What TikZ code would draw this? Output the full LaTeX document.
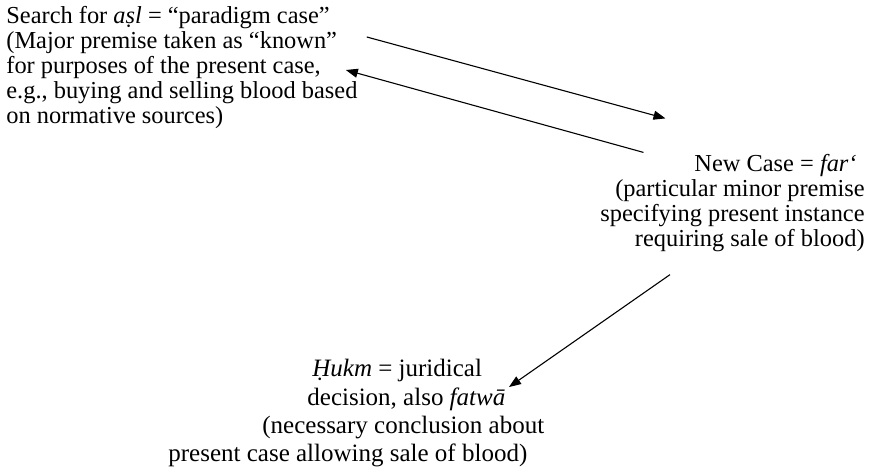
\documentclass[tikz,border=0pt]{standalone}
\usepackage{fontspec}
\setmainfont{Liberation Serif}
\usetikzlibrary{arrows.meta}

\begin{document}
\begin{tikzpicture}[
    x=0.5pt, y=-0.5pt,
    textnode/.style={inner sep=0pt, font=\fontsize{12.2}{12.5}\selectfont},
    bigtextnode/.style={inner sep=0pt, font=\fontsize{12.5}{14.2}\selectfont},
    arrowline/.style={-{Triangle[length=6pt, width=4.5pt]}, line width=0.55pt}
    ]
    \useasboundingbox (0,0) rectangle (878,475);
    %Nodes (base = last line)
    \node[textnode, anchor=base west, align=left] (asl) at (6,124)
        {Search for \textit{aṣl} = “paradigm case”\\
         (Major premise taken as “known”\\
         for purposes of the present case,\\
         e.g., buying and selling blood based\\
         on normative sources)};
    \node[textnode, anchor=base east, align=right] (far) at (865,247)
        {New Case = \textit{far‘}\hspace*{4pt}\\
         (particular minor premise\\
         specifying present instance\\
         requiring sale of blood)};
    \node[bigtextnode, anchor=base west, align=left] (hukm) at (168,462)
        {\hspace*{72pt}\textit{Ḥukm} = juridical\\
         \hspace*{69.5pt}decision, also \textit{fatwā}\\
         \hspace*{47pt}(necessary conclusion about\\
         present case allowing sale of blood)};

    %Lines
    \draw[arrowline] ([xshift=4.5pt, yshift=15.5pt]asl.east) to ([xshift=-33.5pt, yshift=18pt]far.north);
    \draw[arrowline] ([xshift=-44.5pt, yshift=1pt]far.north) to ([xshift=-6pt, yshift=-1pt]asl.east);
    \draw[arrowline] ([xshift=35pt, yshift=-11pt]far.south west) to ([xshift=170.5pt, yshift=-14pt]hukm.north west);
\end{tikzpicture}
\end{document}
